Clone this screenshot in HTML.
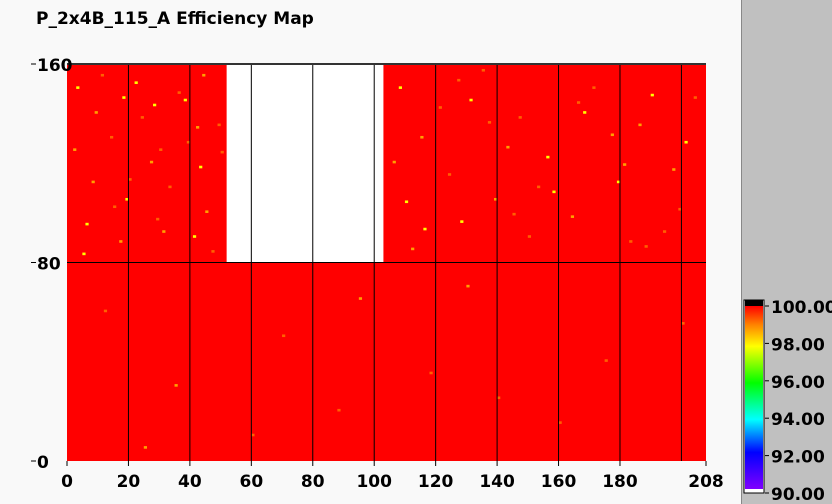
<!DOCTYPE html>
<html><head><meta charset="utf-8"><style>
body{margin:0;width:832px;height:504px;overflow:hidden;background:#f9f9f9;font-family:"DejaVu Sans","Liberation Sans",sans-serif;}
#side{position:absolute;left:741px;top:0;width:91px;height:504px;background:#c0c0c0;border-left:1px solid #888;}
text{font-family:"DejaVu Sans","Liberation Sans",sans-serif;}
</style></head><body>
<div id="side"></div>
<svg id="c" width="832" height="504" style="position:absolute;left:0;top:0">
<defs><linearGradient id="g" x1="0" y1="1" x2="0" y2="0">
<stop offset="0" stop-color="#8000ff"/><stop offset="0.2" stop-color="#0000ff"/><stop offset="0.38" stop-color="#00ffff"/><stop offset="0.58" stop-color="#00ff00"/><stop offset="0.78" stop-color="#ffff00"/><stop offset="0.9" stop-color="#ff8000"/><stop offset="1" stop-color="#ff0000"/></linearGradient></defs>
</svg>
<script>
const xTicks=[0,20,40,60,80,100,120,140,160,180,208];
const xGrid=[20,40,60,80,100,120,140,160,180,200];
const yTicks=[0,80,160];
const cbTicks=[90,92,94,96,98,100];
// blocks: [x0,x1,y0,y1,value] ; null value = no data
const blockX0=[0,0,52,103];
const blockX1=[208,52,103,208];
const blockY0=[0,80,80,80];
const blockY1=[80,160,160,160];
const blockVal=[100,100,null,100];
// sparse lower-efficiency cells
const specX=[3,9,14,22,27,33,38,45,49,6,17,30,41,108,115,124,131,139,147,156,164,171,179,186,194,201,112,150,190,12,35,70,88,130,175,60,95,140,200,25,160,118,2,11,19,24,31,36,43,47,8,15,28,39,106,121,128,135,143,153,168,183,197,204,110,145,177,188,5,20,44,50,18,29,42,127,158,166,181,199,116,137];
const specY=[150,140,130,152,120,110,145,100,135,95,88,125,90,150,130,115,145,105,138,122,98,150,112,135,92,128,85,90,147,60,30,50,20,70,40,10,65,25,55,5,15,35,125,155,105,138,92,148,118,84,112,102,143,128,120,142,96,157,126,110,140,88,117,146,104,99,131,86,83,113,155,124,146,97,134,153,108,144,119,101,93,136];
const specV=[98,98.5,99,98,98.5,99,98,98.5,99,98,98.5,99,98,98,98.5,99,98,98.5,99,98,98.5,99,98,98.5,99,98,98.5,99,98,99,98.5,99,99,98.5,99,99,98.5,99,99,98.5,99,99,98.5,99,98,99,98.5,99,98,99,98.5,99,98,99,98.5,99,98,99,98.5,99,98,99,98.5,99,98,99,98.5,99,98,99,98.5,99,98,99,98.5,99,98,99,98.5,99,98,99];
const X0=67,X1=706,Y0=461,Y1=64;
const sx=v=>X0+(X1-X0)*v/208, sy=v=>Y0-(Y0-Y1)*v/160;
const cy=v=>493-(493-306)*(v-90)/10;
function col(v){if(v>=99.5)return'#ff0000';if(v>=98.8)return'#ff6000';if(v>=98.3)return'#ffa000';return'#ffff00';}
const svg=document.getElementById('c');const NS='http://www.w3.org/2000/svg';
function el(t,a,txt){const e=document.createElementNS(NS,t);for(const k in a)e.setAttribute(k,a[k]);if(txt!==undefined)e.textContent=txt;svg.appendChild(e);return e;}
for(let i=0;i<blockX0.length;i++){
 const r=el('rect',{x:sx(blockX0[i]),y:sy(blockY1[i]),width:sx(blockX1[i])-sx(blockX0[i]),height:sy(blockY0[i])-sy(blockY1[i]),fill:blockVal[i]===null?'#ffffff':col(blockVal[i])});
 
 
}
for(let i=0;i<specX.length;i++){
 const r=el('rect',{x:sx(specX[i]),y:sy(specY[i]+1),width:3.2,height:2.6,fill:col(specV[i])});
 
 
}
xGrid.forEach(v=>{const l=el('line',{x1:sx(v),x2:sx(v),y1:Y1,y2:Y0,stroke:'#000','stroke-width':1});
 
 });
const h=el('line',{x1:X0,x2:X1,y1:sy(80),y2:sy(80),stroke:'#000','stroke-width':1});


el('line',{x1:X0,x2:X1,y1:Y1,y2:Y1,stroke:'#333','stroke-width':2});
xTicks.forEach(v=>{const t=el('text',{x:sx(v),y:487,'text-anchor':'middle','font-size':17,'font-weight':'bold'},String(v));
 
 
 el('line',{x1:sx(v),x2:sx(v),y1:Y0,y2:Y0+5,stroke:'#000'});});
yTicks.forEach(v=>{const t=el('text',{x:37,y:sy(v)+7,'font-size':17,'font-weight':'bold'},String(v));
 
 
 el('line',{x1:31,x2:36,y1:sy(v),y2:sy(v),stroke:'#000'});});
const ti=el('text',{x:36,y:24,'font-size':17,'font-weight':'bold'},'P_2x4B_115_A Efficiency Map');


el('rect',{x:744,y:300,width:20,height:193,fill:'#fff',stroke:'#000'});
const cb=el('rect',{x:745,y:306,width:18,height:183,fill:'url(#g)'});


el('rect',{x:745,y:300,width:18,height:6,fill:'#000'});
cbTicks.forEach(v=>{el('line',{x1:765,x2:769,y1:cy(v),y2:cy(v),stroke:'#000'});
 const t=el('text',{x:771,y:cy(v)+7,'font-size':17,'font-weight':'bold'},v.toFixed(2));
 
 });
</script>
</body></html>
